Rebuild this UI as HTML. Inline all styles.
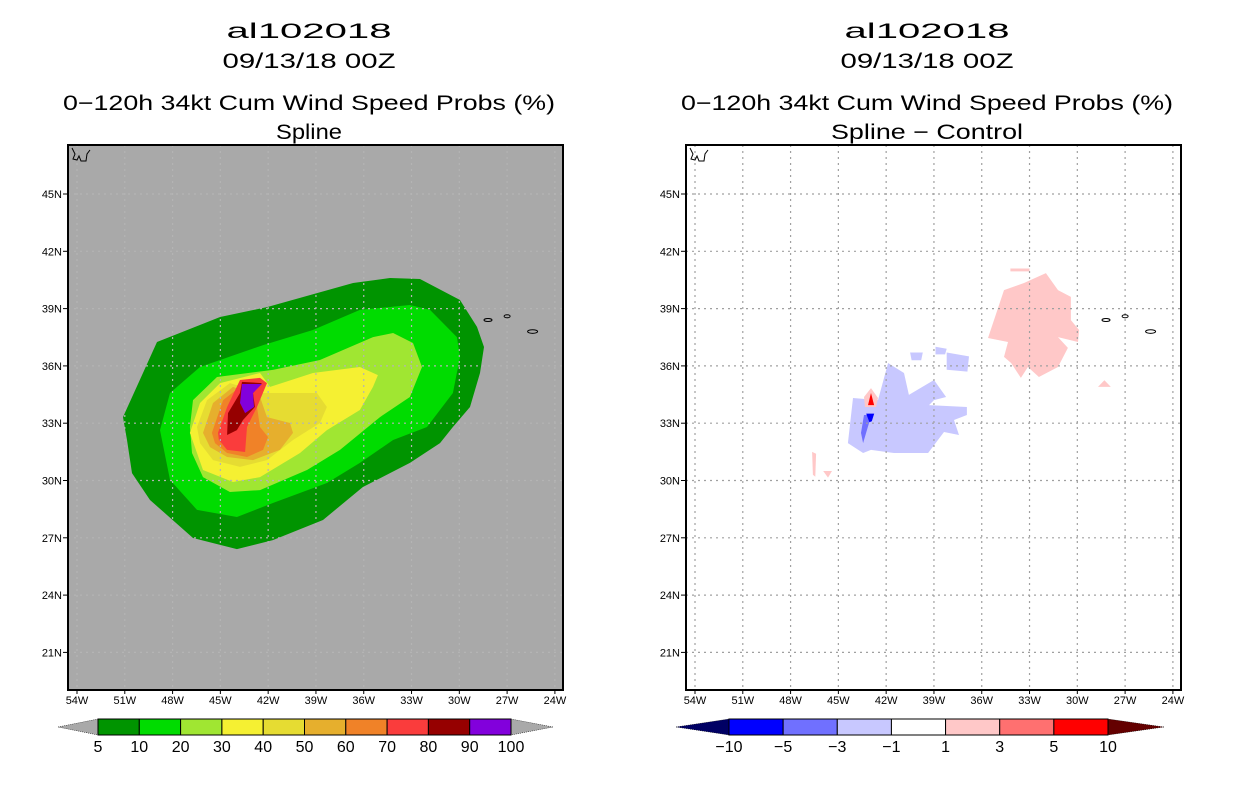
<!DOCTYPE html>
<html><head><meta charset="utf-8">
<style>
html,body{margin:0;padding:0;background:#fff;}
svg{display:block;font-family:"Liberation Sans",sans-serif;}
</style></head>
<body>
<svg id="chart" width="1236" height="800" viewBox="0 0 1236 800">
<g id="left"></g>
<g id="right"></g>
</svg>
<script>
// ---- data ----
const latTicks = [45,42,39,36,33,30,27,24,21];
const lonTicks = [54,51,48,45,42,39,36,33,30,27,24];
const probLevels = ["5","10","20","30","40","50","60","70","80","90","100"];
const probColors = ["#009400","#00dc00","#a0e632","#f5f032","#e6dc32","#e6af2d","#f08228","#fa3c3c","#960000","#8200dc"];
const diffLevels = ["-10","-5","-3","-1","1","3","5","10"];
const diffColors = ["#0000ff","#7070ff","#c8c8ff","#ffffff","#ffc8c8","#ff7070","#ff0000"];
// contour polygons in [lon(W negative), lat]
const c5 = [[-51.11,33.32],[-48.98,37.25],[-45.02,38.56],[-42.07,39.08],[-36.67,40.34],[-34.35,40.6],[-32.47,40.55],[-29.96,39.45],[-28.89,38.04],[-28.45,36.99],[-28.7,35.63],[-29.33,33.85],[-30.4,32.8],[-31.21,31.96],[-33.1,30.92],[-36.05,29.66],[-38.56,27.93],[-41.7,26.88],[-43.96,26.41],[-46.72,26.99],[-49.42,28.98],[-50.55,30.39],[-50.86,32.12]];
const c10 = [[-48.79,32.64],[-48.16,34.58],[-46.28,35.94],[-42.32,37.09],[-39.19,37.88],[-36.24,38.93],[-33.1,39.19],[-31.84,38.93],[-30.15,37.51],[-29.96,36.47],[-30.4,34.58],[-32.03,32.8],[-34.16,32.12],[-36.24,30.92],[-38.31,29.87],[-41.7,28.82],[-43.96,28.09],[-46.47,28.46],[-48.16,30.03]];
const c20 = [[-46.91,32.8],[-46.72,34.21],[-45.21,35.42],[-41.7,35.79],[-38.75,36.31],[-35.42,37.51],[-34.16,37.72],[-32.91,37.2],[-32.34,35.94],[-33.1,34.37],[-34.98,33.32],[-37.49,31.6],[-39.56,30.55],[-42.51,29.5],[-44.4,29.4],[-46.09,30.18],[-46.78,31.44]];
const c30 = [[-46.91,32.49],[-46.28,34.06],[-45.02,35.1],[-42.51,35.63],[-41.88,34.9],[-39.19,35.63],[-36.24,35.94],[-35.11,35.52],[-35.42,34.9],[-36.24,33.69],[-38.31,32.64],[-40.0,31.44],[-42.51,30.18],[-44.21,29.92],[-46.09,30.55]];
const c40 = [[-46.47,32.8],[-45.84,34.21],[-44.4,35.1],[-42.32,34.58],[-40.44,34.58],[-38.94,34.58],[-38.31,33.85],[-38.75,33.01],[-40.44,32.12],[-42.07,31.07],[-43.77,30.71],[-45.46,31.07],[-46.28,31.96]];
const c50 = [[-46.09,32.49],[-45.46,34.06],[-44.21,34.9],[-42.51,34.37],[-42.07,33.32],[-40.63,33.01],[-40.44,32.49],[-41.26,31.6],[-42.95,31.07],[-44.58,31.23],[-45.65,31.75]];
const c60 = [[-45.53,32.49],[-44.83,34.21],[-43.77,34.9],[-42.7,33.85],[-42.51,32.8],[-42.01,32.28],[-42.32,31.6],[-43.33,31.23],[-44.58,31.44],[-45.34,31.96]];
const c70 = [[-45.15,32.49],[-44.58,33.85],[-43.77,35.26],[-42.51,35.37],[-42.07,35.1],[-42.7,33.85],[-43.33,32.8],[-43.45,31.49],[-44.58,31.6],[-45.09,32.12]];
const c80 = [[-44.58,32.38],[-44.52,33.53],[-43.77,34.58],[-43.64,35.16],[-42.39,35.1],[-42.95,34.58],[-42.83,33.85],[-43.58,33.17],[-43.96,32.64]];
const c90 = [[-43.64,35.05],[-42.39,35.05],[-42.95,34.58],[-42.89,33.85],[-43.45,33.53],[-43.77,34.06]];
const probContours = [c5,c10,c20,c30,c40,c50,c60,c70,c80,c90];

const dPinkBig = [[-35.61,37.46],[-34.6,39.97],[-33.35,40.34],[-31.97,40.86],[-31.21,39.97],[-30.4,39.61],[-30.4,38.4],[-29.89,37.88],[-29.96,37.25],[-31.21,37.51],[-30.59,36.94],[-31.21,35.94],[-32.41,35.42],[-33.1,35.94],[-33.54,35.37],[-34.16,36.15],[-34.6,36.47],[-34.35,37.25]];
const dPinkTop = [[-34.2,41.1],[-33.0,41.1],[-33.0,40.95],[-34.2,40.95]];
const dPinkSmall1 = [[-46.65,31.5],[-46.4,31.4],[-46.45,30.2],[-46.6,30.3]];
const dPinkSmall2 = [[-45.95,30.5],[-45.4,30.5],[-45.65,30.15]];
const dPinkSmall3 = [[-27.9,34.9],[-28.7,34.9],[-28.3,35.25]];
const dBlueLight = [[-44.4,31.96],[-44.08,34.32],[-42.51,34.21],[-41.88,36.15],[-40.88,35.63],[-40.57,34.48],[-39.0,35.26],[-38.24,34.37],[-39.0,34.21],[-39.31,33.95],[-36.93,33.85],[-36.93,33.43],[-37.74,33.17],[-37.43,32.38],[-38.37,32.54],[-39.37,31.44],[-41.51,31.44],[-42.95,31.6],[-43.45,31.44]];
const dBlueSmall1 = [[-40.5,36.7],[-39.7,36.7],[-39.8,36.3],[-40.4,36.3]];
const dBlueSmall2 = [[-38.9,37.0],[-38.2,36.9],[-38.3,36.6],[-38.9,36.6]];
const dBlueSmall3 = [[-38.2,36.7],[-36.8,36.5],[-36.9,35.7],[-38.2,35.8]];
const dBlueMid = [[-43.39,33.43],[-42.95,33.43],[-43.08,33.01],[-43.45,31.96],[-43.58,32.49]];
const dBlueDark = [[-43.25,33.5],[-42.75,33.5],[-42.9,33.1],[-43.05,33.05]];
const dPinkTear = [[-42.95,34.84],[-42.51,34.32],[-42.64,33.85],[-43.33,33.85],[-43.39,34.37]];
const dRed = [[-42.95,34.58],[-42.76,33.95],[-43.14,33.95]];
const diffShapes = [[dPinkBig,4],[dPinkTop,4],[dPinkSmall1,4],[dPinkSmall2,4],[dPinkSmall3,4],[dBlueLight,2],[dBlueSmall1,2],[dBlueSmall2,2],[dBlueSmall3,2],[dBlueMid,1],[dBlueDark,0],[dPinkTear,4],[dRed,6]];

// ---- helpers ----
const NS="http://www.w3.org/2000/svg";
function mk(tag,attrs,parent){const e=document.createElementNS(NS,tag);for(const k in attrs)e.setAttribute(k,attrs[k]);parent.appendChild(e);return e;}
const PX0=68,PX1=563,PY0=145,PY1=690;
function xScale(lon,off){return off+77+(lon+54)*15.93;}
function yScale(lat){return 194+(45-lat)*19.1;}
function pts(poly,off){return poly.map(p=>xScale(p[0],off).toFixed(1)+","+yScale(p[1]).toFixed(1)).join(" ");}

function panel(g,off,bg,titles,lens){
  titles.forEach((t,i)=>{
    const tx=mk('text',{x:off+309,y:[38,68,110,139][i],'text-anchor':'middle','font-size':'21','fill':'#000',textLength:lens[i],lengthAdjust:'spacingAndGlyphs'},g);
    tx.textContent=t;
    
    
  });
  const bgR=mk('rect',{x:off+PX0,y:PY0,width:PX1-PX0,height:PY1-PY0,fill:bg},g);
  
  
  return bgR;
}
function grid(g,off,col){
  lonTicks.forEach(l=>{
    const x=xScale(-l,off);
    if(x>off+PX0+2&&x<off+PX1-2){const ln=mk('line',{x1:x,y1:PY0,x2:x,y2:PY1,stroke:col,'stroke-width':1.2,'stroke-dasharray':'2,4'},g);
    }
  });
  latTicks.forEach(l=>{
    const y=yScale(l);
    const ln=mk('line',{x1:off+PX0,y1:y,x2:off+PX1,y2:y,stroke:col,'stroke-width':1.2,'stroke-dasharray':'2,4'},g);
    
  });
}
function axes(g,off){
  const fr=mk('rect',{x:off+PX0,y:PY0,width:PX1-PX0,height:PY1-PY0,fill:'none',stroke:'#000','stroke-width':2},g);
  
  latTicks.forEach(l=>{
    const y=yScale(l);
    mk('line',{x1:off+PX0-5,y1:y,x2:off+PX0,y2:y,stroke:'#000','stroke-width':1},g);
    const t=mk('text',{x:off+PX0-6,y:y+4,'text-anchor':'end','font-size':'11'},g);
    t.textContent=l+"N";
    
  });
  lonTicks.forEach(l=>{
    const x=xScale(-l,off);
    mk('line',{x1:x,y1:PY1,x2:x,y2:PY1+4,stroke:'#000','stroke-width':1},g);
    const t=mk('text',{x:x,y:PY1+14,'text-anchor':'middle','font-size':'11'},g);
    t.textContent=l+"W";
    
  });
  mk('path',{d:`M${off+72} ${PY0+3} l3 6 l-2 5 l4 1 l2 -4 l2 5 l5 0 l1 -7 l3 -4`,fill:'none',stroke:'#000','stroke-width':1},g);
  [[-28.2,38.4,4,1.5],[-27.0,38.6,3,1.5],[-25.4,37.8,5,1.8]].forEach(c=>{
    const e=mk('ellipse',{cx:xScale(c[0],off),cy:yScale(c[1]),rx:c[2],ry:c[3],fill:'none',stroke:'#000','stroke-width':1},g);
    
  });
}
function colorbar(g,x0,x1,tipL,tipR,colors,labels,leftCol,rightCol){
  const y0=719,y1=735,n=colors.length,w=(x1-x0)/n;
  const tl=mk('polygon',{points:`${tipL},${(y0+y1)/2} ${x0},${y0} ${x0},${y1}`,fill:leftCol,stroke:'#000','stroke-width':0.5,'stroke-dasharray':'1,1'},g);
  
  const tr=mk('polygon',{points:`${tipR},${(y0+y1)/2} ${x1},${y0} ${x1},${y1}`,fill:rightCol,stroke:'#000','stroke-width':0.5,'stroke-dasharray':'1,1'},g);
  
  colors.forEach((c,i)=>{
    const r=mk('rect',{x:x0+i*w,y:y0,width:w,height:y1-y0,fill:c,stroke:'#000','stroke-width':1},g);
    
  });
  labels.forEach((l,i)=>{
    const t=mk('text',{x:x0+i*w,y:752,'text-anchor':'middle','font-size':'16'},g);
    t.textContent=l.replace('-','\u2212');
    
  });
}

// ---- left panel ----
const L=document.getElementById('left');
panel(L,0,'#a9a9a9',["al102018","09/13/18 00Z","0\u2212120h 34kt Cum Wind Speed Probs (%)","Spline"],[165,173,492,66]);
probContours.forEach((poly,i)=>{
  const p=mk('polygon',{points:pts(poly,0),fill:probColors[i]},L);
  
  
});
grid(L,0,'#b4b4b4');
axes(L,0);
colorbar(L,98,511,58,553,probColors,probLevels,'#a9a9a9','#a9a9a9');

// ---- right panel ----
const R=document.getElementById('right');
const OFF=618;
panel(R,OFF,'#ffffff',["al102018","09/13/18 00Z","0\u2212120h 34kt Cum Wind Speed Probs (%)","Spline \u2212 Control"],[165,173,492,192]);
diffShapes.forEach(s=>{
  const p=mk('polygon',{points:pts(s[0],OFF),fill:diffColors[s[1]]},R);
  
  
});
grid(R,OFF,'#a0a0a0');
axes(R,OFF);
colorbar(R,729,1108,676,1164,diffColors,diffLevels,'#000064','#640000');
</script>
</body></html>
